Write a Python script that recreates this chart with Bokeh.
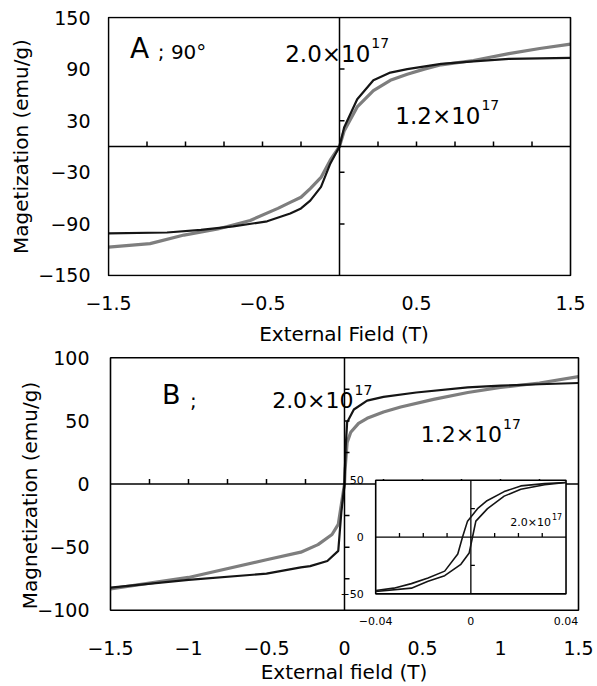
import numpy as np
from bokeh.plotting import figure
from bokeh.models import Range1d, FixedTicker
from bokeh.layouts import column
from bokeh.embed import file_html
from bokeh.resources import INLINE
from bokeh.core.properties import value

# ---------------- data ----------------
# Panel A (90 deg): black = 2.0x10^17, gray = 1.2x10^17
A_HI_H = [-1.5, -1.12, -0.9, -0.69, -0.47, -0.32, -0.25, -0.19, -0.12, -0.06, 0.0,
          0.03, 0.115, 0.22, 0.33, 0.44, 0.66, 0.87, 1.1, 1.5]
A_HI_M = [-101, -100, -97, -93, -87, -78, -72, -63, -47, -20, 0,
          22, 55, 77, 86, 90, 96, 99, 102, 103]
A_LO_H = [-1.5, -1.23, -1.01, -0.79, -0.58, -0.4, -0.32, -0.25, -0.19, -0.12, -0.06, 0.0,
          0.03, 0.115, 0.22, 0.33, 0.44, 0.55, 0.66, 0.87, 1.1, 1.3, 1.5]
A_LO_M = [-117, -113, -103, -96, -86, -72, -65, -59, -49, -36, -16, 0,
          18, 46, 65, 77, 84, 90, 95, 100, 108, 114, 119]

# Panel B
B_HI_H = [-1.5, -1.0, -0.5, -0.28, -0.22, -0.11, -0.04, -0.02, 0.0, 0.008, 0.017,
          0.06, 0.145, 0.25, 0.46, 0.79, 1.0, 1.25, 1.5]
B_HI_M = [-82, -76, -71, -66, -65, -61, -53, -22, 0, 30, 49,
          59, 66, 69, 72.5, 76.5, 78, 79, 80]
B_LO_H = [-1.5, -1.0, -0.5, -0.28, -0.17, -0.08, -0.04, -0.02, 0.0, 0.004, 0.017,
          0.04, 0.09, 0.145, 0.25, 0.36, 0.57, 0.79, 1.0, 1.25, 1.5]
B_LO_M = [-83, -74, -60, -54, -48, -40, -32, -16, 0, 12, 33,
          41, 48, 52, 57, 61, 67, 72.5, 76.5, 80, 85]

# Inset of panel B (2.0x10^17, low field loop)
IN_UP_H = [-0.04, -0.0324, -0.025, -0.018, -0.011, -0.0055, -0.0035, -0.0014,
           0.0028, 0.0068, 0.014, 0.021, 0.031, 0.04]
IN_UP_M = [-47, -45, -41, -36, -30, -15, 0, 14, 25, 32, 40, 45, 47, 48]
IN_DN_H = [-0.04, -0.025, -0.018, -0.011, -0.0042, -0.0007, 0.0007, 0.0021,
           0.007, 0.014, 0.021, 0.031, 0.04]
IN_DN_M = [-48, -45, -39, -34, -24, -14, 0, 14, 25, 36, 42, 46, 48]

# axes
A_X_RANGE = (-1.5, 1.5)
A_Y_RANGE = (-150, 150)
A_X_TICKS = [-1.5, -0.5, 0.5, 1.5]
A_X_LABELS = ["\u22121.5", "\u22120.5", "0.5", "1.5"]
A_Y_TICKS = [150, 90, 30, -30, -90, -150]
A_Y_LABELS = ["150", "90", "30", "\u221230", "\u221290", "\u2212150"]
A_X_MINOR = [-1.25, -1.0, -0.75, -0.5, -0.25, 0.25, 0.5, 0.75, 1.0, 1.25]
A_Y_MINOR = [90, 30, -30, -90]

B_X_RANGE = (-1.5, 1.5)
B_Y_RANGE = (-100, 100)
B_X_TICKS = [-1.5, -1, -0.5, 0, 0.5, 1, 1.5]
B_X_LABELS = ["\u22121.5", "\u22121", "\u22120.5", "0", "0.5", "1", "1.5"]
B_Y_TICKS = [100, 50, 0, -50, -100]
B_Y_LABELS = ["100", "50", "0", "\u221250", "\u2212100"]
B_X_MINOR = [-1.25, -1.0, -0.75, -0.5, -0.25, 0.25, 0.5, 0.75, 1.0, 1.25]
B_Y_MINOR = [75, 50, 25, -25, -50, -75]

# The two stacked frames get the same width, so each panel's visible window is a
# little larger than its boxed axis range (box drawn as a glyph); this also keeps
# the inset's tick labels below box B inside the drawable frame.
A_VIEW_X = (-1.5065, 1.5649)
A_VIEW_Y = (-151.2, 151.2)
B_VIEW_X = (-1.5192, 1.5128)
B_VIEW_Y = (-119.2, 101)

IN_X_RANGE = (-0.04, 0.04)
IN_Y_RANGE = (-50, 50)
IN_X_TICKS = [-0.04, 0, 0.04]
IN_X_LABELS = ["\u22120.04", "0", "0.04"]
IN_Y_TICKS = [50, 0, -50]
IN_Y_LABELS = ["50", "0", "\u221250"]
IN_X_MINOR = [-0.03, -0.02, -0.01, 0.01, 0.02, 0.03]
IN_Y_MINOR = [25, -25]
# where the inset sits inside panel B (panel B data units)
IN_BOX_X = (0.2, 1.42)
IN_BOX_Y = (-87, 3)

FONT = "DejaVu Sans"
BLACK = "#151515"
GRAY = "#7e7e7e"


def make_fig(h, xr, yr, xt, xl, yt, yl, ylabel, xlabel, left, right, top, bottom,
             xstand, ystand, xlstand, ylstand):
    p = figure(width=597, height=h, x_range=Range1d(*xr), y_range=Range1d(*yr),
               output_backend="svg", toolbar_location=None,
               min_border_left=left, min_border_right=right,
               min_border_top=top, min_border_bottom=bottom)
    p.grid.visible = False
    p.outline_line_color = None
    p.background_fill_color = "white"
    p.border_fill_color = "white"
    p.xaxis.ticker = FixedTicker(ticks=xt)
    p.yaxis.ticker = FixedTicker(ticks=yt)
    p.xaxis.major_label_overrides = {float(t): s for t, s in zip(xt, xl)}
    p.yaxis.major_label_overrides = {float(t): s for t, s in zip(yt, yl)}
    for ax in (p.xaxis[0], p.yaxis[0]):
        ax.axis_line_color = None
        ax.major_tick_line_color = None
        ax.minor_tick_line_color = None
        ax.major_tick_out = 0
        ax.major_tick_in = 0
        ax.major_label_text_font = FONT
        ax.major_label_text_font_size = "19px"
        ax.major_label_text_color = "black"
        ax.axis_label_text_font = FONT
        ax.axis_label_text_font_size = "20px"
        ax.axis_label_text_font_style = "normal"
        ax.axis_label_text_color = "black"
    p.xaxis.axis_label = xlabel
    p.yaxis.axis_label = ylabel
    p.xaxis.major_label_standoff = xstand
    p.yaxis.major_label_standoff = ystand
    p.xaxis.axis_label_standoff = xlstand
    p.yaxis.axis_label_standoff = ylstand
    return p


def box(g, xr, yr, lw, fill=None):
    g.quad(left=[xr[0]], right=[xr[1]], bottom=[yr[0]], top=[yr[1]],
           fill_color=fill, line_color="black", line_width=lw)


def cross_axes(g, xr, yr, xminor, yminor, tick_len, lw):
    g.segment(x0=[xr[0], 0], y0=[0, yr[0]], x1=[xr[1], 0], y1=[0, yr[1]],
              line_color="black", line_width=lw)
    g.ray(x=xminor, y=[0] * len(xminor), length=tick_len, length_units="screen",
          angle=np.pi / 2, line_color="black", line_width=lw)
    g.ray(x=[0] * len(yminor), y=yminor, length=tick_len, length_units="screen",
          angle=0, line_color="black", line_width=lw)


def sci_label(g, x, y, mant, exp, size, exp_size, exp_dy):
    g.text(x=[x], y=[y], text=[mant], text_font=value(FONT), text_font_size=size,
           text_align="right", text_baseline="middle", text_color="black")
    g.text(x=[x], y=[y], text=[exp], text_font=value(FONT), text_font_size=exp_size,
           text_align="left", text_baseline="middle", text_color="black",
           x_offset=1, y_offset=exp_dy)


# ---------------- panel A ----------------
p1 = make_fig(348, A_VIEW_X, A_VIEW_Y, A_X_TICKS, A_X_LABELS, A_Y_TICKS, A_Y_LABELS,
              "Magetization (emu/g)", "External Field (T)",
              left=107, right=17, top=16, bottom=72,
              xstand=19, ystand=17, xlstand=9, ylstand=2)
p1.line(A_LO_H, A_LO_M, line_color=GRAY, line_width=3.2)
p1.line(A_HI_H, A_HI_M, line_color=BLACK, line_width=2.2)
cross_axes(p1, A_X_RANGE, A_Y_RANGE, A_X_MINOR, A_Y_MINOR, 5, 1.5)
box(p1, A_X_RANGE, A_Y_RANGE, 1.6)
p1.text(x=[-1.36], y=[114], text=["A"], text_font=value(FONT), text_font_size="28px",
        text_align="left", text_baseline="middle", text_color="black")
p1.text(x=[-1.18], y=[110], text=["; 90\u00b0"], text_font=value(FONT), text_font_size="20px",
        text_align="left", text_baseline="middle", text_color="black")
sci_label(p1, 0.2, 108, "2.0\u00d710", "17", "23px", "14px", -11)
sci_label(p1, 0.915, 36, "1.2\u00d710", "17", "23px", "14px", -11)

# ---------------- panel B ----------------
p2 = make_fig(338, B_VIEW_X, B_VIEW_Y, B_X_TICKS, B_X_LABELS, B_Y_TICKS, B_Y_LABELS,
              "Magnetization (emu/g)", "External field (T)",
              left=107, right=17, top=8, bottom=52,
              xstand=6, ystand=18, xlstand=2, ylstand=-8)
p2.line(B_LO_H, B_LO_M, line_color=GRAY, line_width=3.2)
p2.line(B_HI_H, B_HI_M, line_color=BLACK, line_width=2.2)
cross_axes(p2, B_X_RANGE, B_Y_RANGE, B_X_MINOR, B_Y_MINOR, 5, 1.5)
box(p2, B_X_RANGE, B_Y_RANGE, 1.6)
p2.text(x=[-1.17], y=[71], text=["B"], text_font=value(FONT), text_font_size="27px",
        text_align="left", text_baseline="middle", text_color="black")
p2.text(x=[-0.99], y=[66], text=[";"], text_font=value(FONT), text_font_size="20px",
        text_align="left", text_baseline="middle", text_color="black")
sci_label(p2, 0.058, 66, "2.0\u00d710", "17", "22px", "14px", -11)
sci_label(p2, 1.01, 39, "1.2\u00d710", "17", "22px", "14px", -11)

# ---------------- inset ----------------
sub = p2.subplot(x_source=Range1d(*IN_X_RANGE), y_source=Range1d(*IN_Y_RANGE),
                 x_target=Range1d(*IN_BOX_X), y_target=Range1d(*IN_BOX_Y))
box(sub, IN_X_RANGE, IN_Y_RANGE, 1.6, fill="white")
cross_axes(sub, IN_X_RANGE, IN_Y_RANGE, IN_X_MINOR, IN_Y_MINOR, 4, 1.3)
sub.line(IN_UP_H, IN_UP_M, line_color=BLACK, line_width=1.6)
sub.line(IN_DN_H, IN_DN_M, line_color=BLACK, line_width=1.6)
sub.text(x=[IN_X_RANGE[0]] * len(IN_Y_TICKS), y=IN_Y_TICKS, text=IN_Y_LABELS,
         text_font=value(FONT), text_font_size="11px", text_align="right",
         text_baseline="middle", text_color="black", x_offset=-12)
sub.text(x=IN_X_TICKS, y=[IN_Y_RANGE[0]] * len(IN_X_TICKS), text=IN_X_LABELS,
         text_font=value(FONT), text_font_size="11px", text_align="center",
         text_baseline="middle", text_color="black", y_offset=27)
sci_label(sub, 0.0337, 13, "2.0\u00d710", "17", "11px", "8px", -6)

layout = column(p1, p2)
open("out.html", "w").write(file_html(layout, INLINE))
